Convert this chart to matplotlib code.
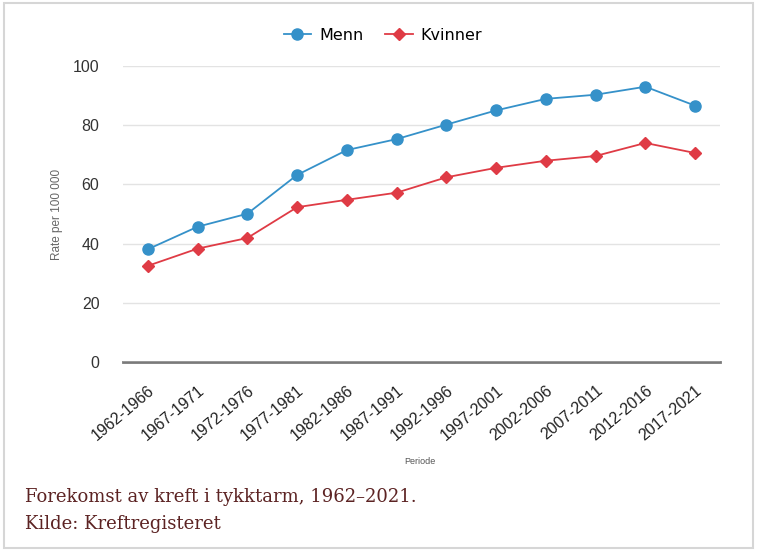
import matplotlib
matplotlib.use("Agg")
import matplotlib.pyplot as plt
import matplotlib.patches as mpatches

periods = ["1962-1966", "1967-1971", "1972-1976", "1977-1981", "1982-1986", "1987-1991",
           "1992-1996", "1997-2001", "2002-2006", "2007-2011", "2012-2016", "2017-2021"]
menn = [38.1, 45.7, 50.1, 63.2, 71.6, 75.3, 80.2, 85.0, 88.9, 90.3, 93.0, 86.6]
kvinner = [32.5, 38.3, 41.9, 52.3, 54.8, 57.2, 62.4, 65.6, 68.0, 69.6, 74.0, 70.6]
yticks = [0, 20, 40, 60, 80, 100]

BLUE = "#3591c9"
RED = "#df3b45"
CAPTION = "#5c2323"
SANS = "Liberation Sans"

fig = plt.figure(figsize=(7.58, 5.5), dpi=100)
fig.patch.set_facecolor("white")

# light border round the whole card
border = mpatches.Rectangle((4 / 758, 2 / 550), 749 / 758, 545 / 550, transform=fig.transFigure,
                            facecolor="none", edgecolor="#d6d6d6", linewidth=1.5)
fig.patches.append(border)

ax = fig.add_axes([123 / 758, 1 - 362 / 550, (720 - 123) / 758, (362 - 66) / 550])
x = list(range(len(periods)))
ax.plot(x, menn, color=BLUE, marker="o", markersize=8, linewidth=1.3, label="Menn")
ax.plot(x, kvinner, color=RED, marker="D", markersize=6.5, linewidth=1.3, label="Kvinner")

ax.set_xlim(-0.5, len(periods) - 0.5)
ax.set_ylim(0, 100)
ax.set_yticks(yticks)
ax.set_yticklabels([str(v) for v in yticks], fontsize=11.5, color="#333333", family=SANS)
ax.set_xticks(x)
ax.set_xticklabels(periods, rotation=40, ha="right", rotation_mode="anchor", fontsize=11.5,
                   color="#222222", family=SANS)
ax.tick_params(axis="both", length=0)
ax.tick_params(axis="y", pad=17)
ax.tick_params(axis="x", pad=15)
ax.grid(axis="y", color="#e3e3e3", linewidth=1)
ax.set_axisbelow(True)
for s in ["top", "right", "left"]:
    ax.spines[s].set_visible(False)
ax.spines["bottom"].set_color("#7a7a7a")
ax.spines["bottom"].set_linewidth(2)
ax.spines["bottom"].set_zorder(0.5)

ax.set_ylabel("Rate per 100 000", fontsize=8.5, color="#666666", family=SANS)
ax.yaxis.set_label_coords(-0.1, 0.5)
fig.text(420 / 758, 1 - 461 / 550, "Periode", fontsize=6.5, color="#555555", ha="center", va="center",
         family=SANS)

fig.legend(loc="center", bbox_to_anchor=(383 / 758, 1 - 35 / 550), ncol=2, frameon=False,
           fontsize=11.5, handlelength=1.7, columnspacing=1.4, handletextpad=0.5)

fig.text(25 / 758, 1 - 497 / 550, "Forekomst av kreft i tykktarm, 1962\u20132021.",
         family="DejaVu Serif", fontsize=13, color=CAPTION, va="center")
fig.text(25 / 758, 1 - 524 / 550, "Kilde: Kreftregisteret",
         family="DejaVu Serif", fontsize=13, color=CAPTION, va="center")

fig.savefig("out.png", dpi=100, facecolor="white")
